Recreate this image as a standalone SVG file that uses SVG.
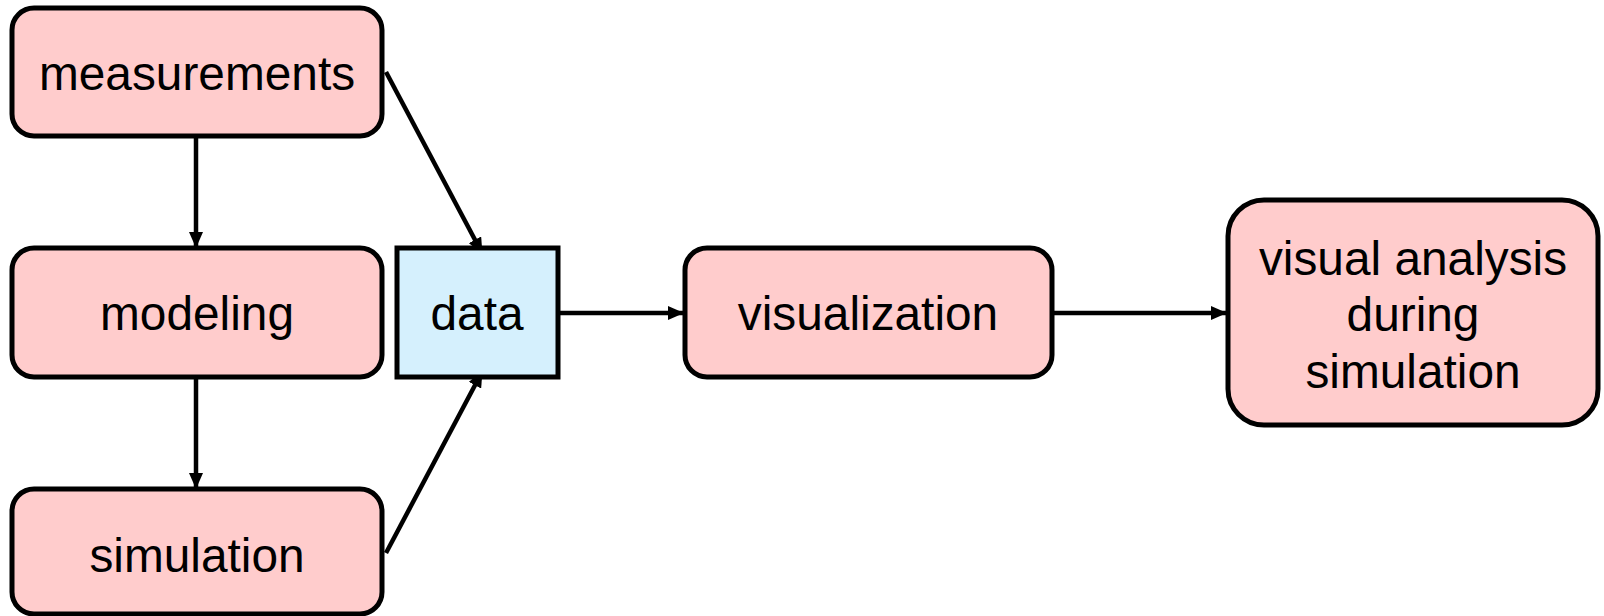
<svg xmlns="http://www.w3.org/2000/svg" width="1604" height="616" viewBox="0 0 1604 616">
<style>
.box{fill:#ffcccc;stroke:#000;stroke-width:5}
.dbox{fill:#d5f0fd;stroke:#000;stroke-width:5}
.lbl{font-family:"Liberation Sans",Arial,sans-serif;font-size:47.8px;fill:#000;text-anchor:middle}
.con{stroke:#000;stroke-width:4.5;fill:none;marker-end:url(#ah)}
</style>
<defs>
<marker id="ah" markerUnits="userSpaceOnUse" markerWidth="16" markerHeight="14" refX="15" refY="7" orient="auto">
<path d="M0,0 L16,7 L0,14 Z" fill="#000"/>
</marker>
</defs>
<rect width="1604" height="616" fill="#fff"/>
<g id="connectors">
<line class="con" x1="196" y1="138" x2="196" y2="247"/>
<line class="con" x1="196" y1="379" x2="196" y2="488"/>
<line class="con" x1="386" y1="72" x2="482" y2="253"/>
<line class="con" x1="386" y1="553" x2="482" y2="372"/>
<line class="con" x1="560" y1="313" x2="683" y2="313"/>
<line class="con" x1="1054" y1="313" x2="1226" y2="313"/>
</g>
<g id="measurements">
<rect class="box" x="12" y="8" width="370" height="128" rx="22"/>
<text class="lbl" x="197" y="90">measurements</text>
</g>
<g id="modeling">
<rect class="box" x="12" y="248" width="370" height="129" rx="22"/>
<text class="lbl" x="197" y="330">modeling</text>
</g>
<g id="simulation">
<rect class="box" x="12" y="489" width="370" height="125" rx="22"/>
<text class="lbl" x="197" y="572">simulation</text>
</g>
<g id="data">
<rect class="dbox" x="397" y="248" width="161" height="129"/>
<text class="lbl" x="477" y="330">data</text>
</g>
<g id="visualization">
<rect class="box" x="685" y="248" width="367" height="129" rx="22"/>
<text class="lbl" x="868" y="330">visualization</text>
</g>
<g id="visual-analysis">
<rect class="box" x="1228" y="200" width="370" height="225" rx="36"/>
<text class="lbl" x="1413" y="275">visual analysis</text>
<text class="lbl" x="1413" y="331">during</text>
<text class="lbl" x="1413" y="388">simulation</text>
</g>
</svg>
